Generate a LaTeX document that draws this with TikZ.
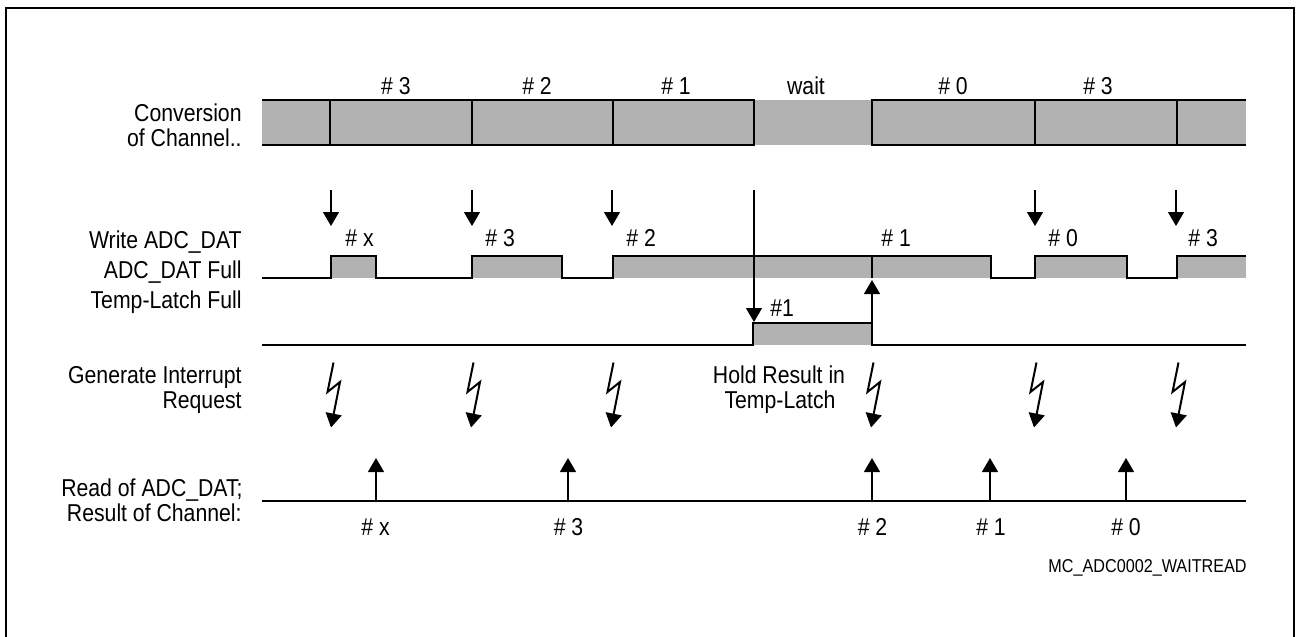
\documentclass[tikz,border=0pt]{standalone}
\usepackage{fontspec}
\setmainfont{Liberation Sans}[FakeStretch=0.87]
\usetikzlibrary{arrows.meta}
\definecolor{fillgray}{RGB}{178,178,178}
\begin{document}
\begin{tikzpicture}[x=0.5pt,y=-0.5pt,
  sig/.style={line width=1.4pt, line join=miter},
  thinline/.style={line width=0.65pt},
  bolt/.style={line width=1pt, line join=miter, -{Triangle[length=7pt,width=8pt]}},
  tipd/.style={thinline, -{Triangle[length=7pt,width=8pt]}},
  lbl/.style={font=\fontsize{12.2}{13}\selectfont, inner sep=0pt},
  lblr/.style={lbl, anchor=base east},
  lblc/.style={lbl, anchor=base},
  lbll/.style={lbl, anchor=base west},
  small/.style={font=\fontsize{9.3}{10}\selectfont, inner sep=0pt, anchor=base east}
]
\useasboundingbox (0,0) rectangle (1296,637);
% frame
\draw[line width=1pt] (5.5,645) -- (5.5,7.5) -- (1294,7.5) -- (1294,645);

% ---- Conversion of channel bar
\fill[fillgray] (262,100) rectangle (1246,145);
\draw[sig] (262,100) -- (754,100) -- (754,145) -- (262,145);
\draw[sig] (1246,100) -- (872,100) -- (872,145) -- (1246,145);
\foreach \x in {330,472,613,1035,1177} \draw[sig] (\x,100) -- (\x,145);

\node[lblc] (c3a) at (396,94) {\# 3};
\node[lblc] (c2) at (537,94) {\# 2};
\node[lblc] (c1) at (676,94) {\# 1};
\node[lblc] (cw) at (806,94) {wait};
\node[lblc] (c0) at (953,94) {\# 0};
\node[lblc] (c3b) at (1098,94) {\# 3};

% ---- ADC_DAT full row
\fill[fillgray] (331,256) rectangle (376,278);
\fill[fillgray] (472,256) rectangle (562,278);
\fill[fillgray] (613,256) rectangle (991,278);
\fill[fillgray] (1035,256) rectangle (1127,278);
\fill[fillgray] (1177,256) rectangle (1246,278);
\draw[sig] (262,278) -- (331,278) -- (331,256) -- (376,256) -- (376,278)
  -- (472,278) -- (472,256) -- (562,256) -- (562,278) -- (613,278)
  -- (613,256) -- (991,256) -- (991,278) -- (1035,278) -- (1035,256)
  -- (1127,256) -- (1127,278) -- (1177,278) -- (1177,256) -- (1246,256);

% write arrows
\foreach \x in {331,472,612,1035,1176} \draw[tipd] (\x,190) -- (\x,226);
\draw[tipd] (754,190) -- (754,322);
\draw[sig] (754,256) -- (754,278);
\draw[sig] (872,256) -- (872,278);
\draw[tipd] (872,323) -- (872,280);

\node[lbll] (wx) at (345,246) {\# x};
\node[lbll] (w3a) at (485,246) {\# 3};
\node[lbll] (w2) at (626,246) {\# 2};
\node[lbll] (w1) at (881,246) {\# 1};
\node[lbll] (w0) at (1048,246) {\# 0};
\node[lbll] (w3b) at (1188,246) {\# 3};

% ---- Temp latch row
\fill[fillgray] (753,323) rectangle (872,345);
\draw[sig] (262,345) -- (753,345) -- (753,323) -- (872,323) -- (872,345) -- (1246,345);
\node[lbll] (t1) at (770,316) {\#1};

% ---- interrupt bolts
\foreach \c in {332,472,612,872,1035,1177}
  \draw[bolt] (\c+1.5,362.5) -- (\c-4.5,392) -- (\c+8,382) -- (\c-1,427.5);

\node[lblc] (h1) at (779,383) {Hold Result in};
\node[lblc] (h2) at (780,408.3) {Temp-Latch};

% ---- read row
\draw[sig] (262,501) -- (1246,501);
\foreach \x in {376,568,872,990,1126} \draw[tipd] (\x,501) -- (\x,458);
\node[lblc] (rx) at (375.5,535) {\# x};
\node[lblc] (r3) at (568.5,535) {\# 3};
\node[lblc] (r2) at (872.5,535) {\# 2};
\node[lblc] (r1) at (991,535) {\# 1};
\node[lblc] (r0) at (1126,535) {\# 0};

% ---- left labels
\node[lblr] (l1a) at (242,121) {Conversion};
\node[lblr] (l1b) at (242,146) {of Channel..};
\node[lblr] (l2a) at (242,248.5) {Write ADC\_DAT};
\node[lblr] (l2b) at (242,278.5) {ADC\_DAT Full};
\node[lblr] (l2c) at (242,308) {Temp-Latch Full};
\node[lblr] (l3a) at (242,383.5) {Generate Interrupt};
\node[lblr] (l3b) at (242,408.5) {Request};
\node[lblr] (l4a) at (243,496.7) {Read of ADC\_DAT;};
\node[lblr] (l4b) at (242,521.5) {Result of Channel:};

\node[small] (mc) at (1247,572.5) {MC\_ADC0002\_WAITREAD};
\end{tikzpicture}
\end{document}
